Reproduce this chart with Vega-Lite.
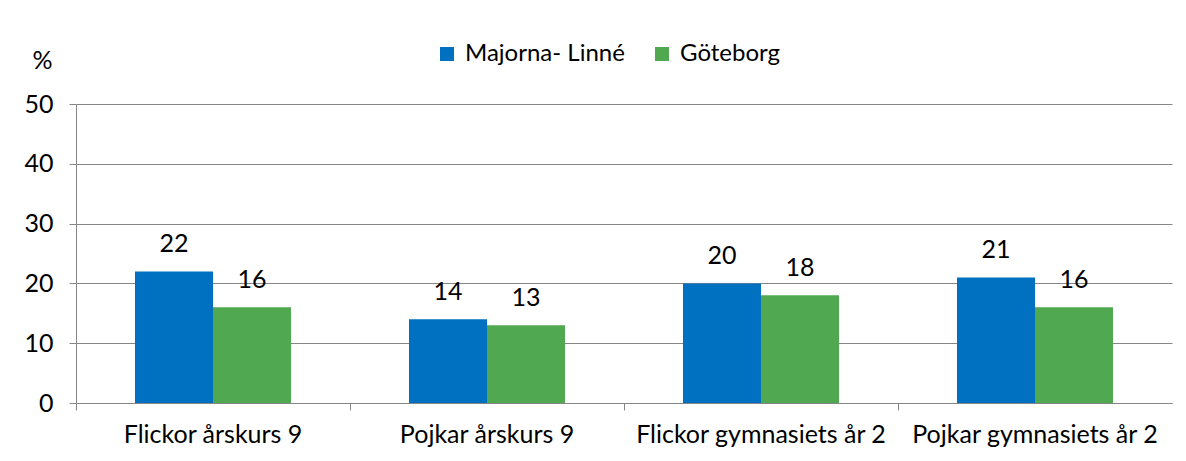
{
  "$schema": "https://vega.github.io/schema/vega-lite/v6.json",
  "width": 1096,
  "height": 299,
  "autosize": {"type": "none"},
  "padding": {"left": 76, "top": 104, "right": 14, "bottom": 58},
  "background": "white",
  "data": {
    "values": [
      {"group": "Flickor årskurs 9", "series": "Majorna- Linné", "value": 22},
      {"group": "Flickor årskurs 9", "series": "Göteborg", "value": 16},
      {"group": "Pojkar årskurs 9", "series": "Majorna- Linné", "value": 14},
      {"group": "Pojkar årskurs 9", "series": "Göteborg", "value": 13},
      {"group": "Flickor gymnasiets år 2", "series": "Majorna- Linné", "value": 20},
      {"group": "Flickor gymnasiets år 2", "series": "Göteborg", "value": 18},
      {"group": "Pojkar gymnasiets år 2", "series": "Majorna- Linné", "value": 21},
      {"group": "Pojkar gymnasiets år 2", "series": "Göteborg", "value": 16}
    ]
  },
  "encoding": {
    "x": {
      "field": "group",
      "type": "nominal",
      "sort": ["Flickor årskurs 9", "Pojkar årskurs 9", "Flickor gymnasiets år 2", "Pojkar gymnasiets år 2"],
      "scale": {"paddingInner": 0, "paddingOuter": 0},
      "axis": {
        "title": null,
        "labelAngle": 0,
        "labelLimit": 0,
        "bandPosition": 0,
        "ticks": true,
        "tickSize": 7,
        "tickColor": "#868686",
        "domainColor": "#868686",
        "grid": false,
        "labelFont": "Lato",
        "labelFontSize": 25,
        "labelColor": "black",
        "labelPadding": 12
      }
    },
    "xOffset": {
      "field": "series",
      "type": "nominal",
      "sort": ["Majorna- Linné", "Göteborg"],
      "scale": {"paddingOuter": 0.756, "paddingInner": 0}
    },
    "y": {
      "field": "value",
      "type": "quantitative",
      "scale": {"domain": [0, 50], "nice": false},
      "axis": {
        "values": [0, 10, 20, 30, 40, 50],
        "grid": true,
        "gridColor": "#868686",
        "domainColor": "#868686",
        "tickColor": "#868686",
        "tickSize": 7,
        "labelPadding": 16,
        "labelFont": "Lato",
        "labelFontSize": 25,
        "labelColor": "black",
        "title": "%",
        "titleAngle": 0,
        "titleX": -34,
        "titleY": -44,
        "titleAlign": "center",
        "titleBaseline": "middle",
        "titleFont": "Lato",
        "titleFontSize": 25,
        "titleFontWeight": "normal",
        "titleColor": "black"
      }
    }
  },
  "layer": [
    {
      "mark": {"type": "bar"},
      "encoding": {
        "color": {
          "field": "series",
          "type": "nominal",
          "sort": ["Majorna- Linné", "Göteborg"],
          "scale": {"domain": ["Majorna- Linné", "Göteborg"], "range": ["#0070C0", "#50A850"]},
          "legend": {
            "title": null,
            "orient": "none",
            "legendX": 359,
            "legendY": -62,
            "direction": "horizontal",
            "symbolType": "square",
            "symbolSize": 196,
            "symbolStrokeWidth": 0,
            "symbolOpacity": 1,
            "labelFont": "Lato",
            "labelFontSize": 24,
            "labelColor": "black",
            "labelOffset": 6,
            "labelLimit": 0,
            "columnPadding": 25
          }
        }
      }
    },
    {
      "mark": {"type": "text", "dy": -19, "baseline": "alphabetic", "font": "Lato", "fontSize": 25, "color": "black"},
      "encoding": {"text": {"field": "value", "type": "quantitative"}}
    }
  ],
  "config": {"view": {"stroke": null}}
}
